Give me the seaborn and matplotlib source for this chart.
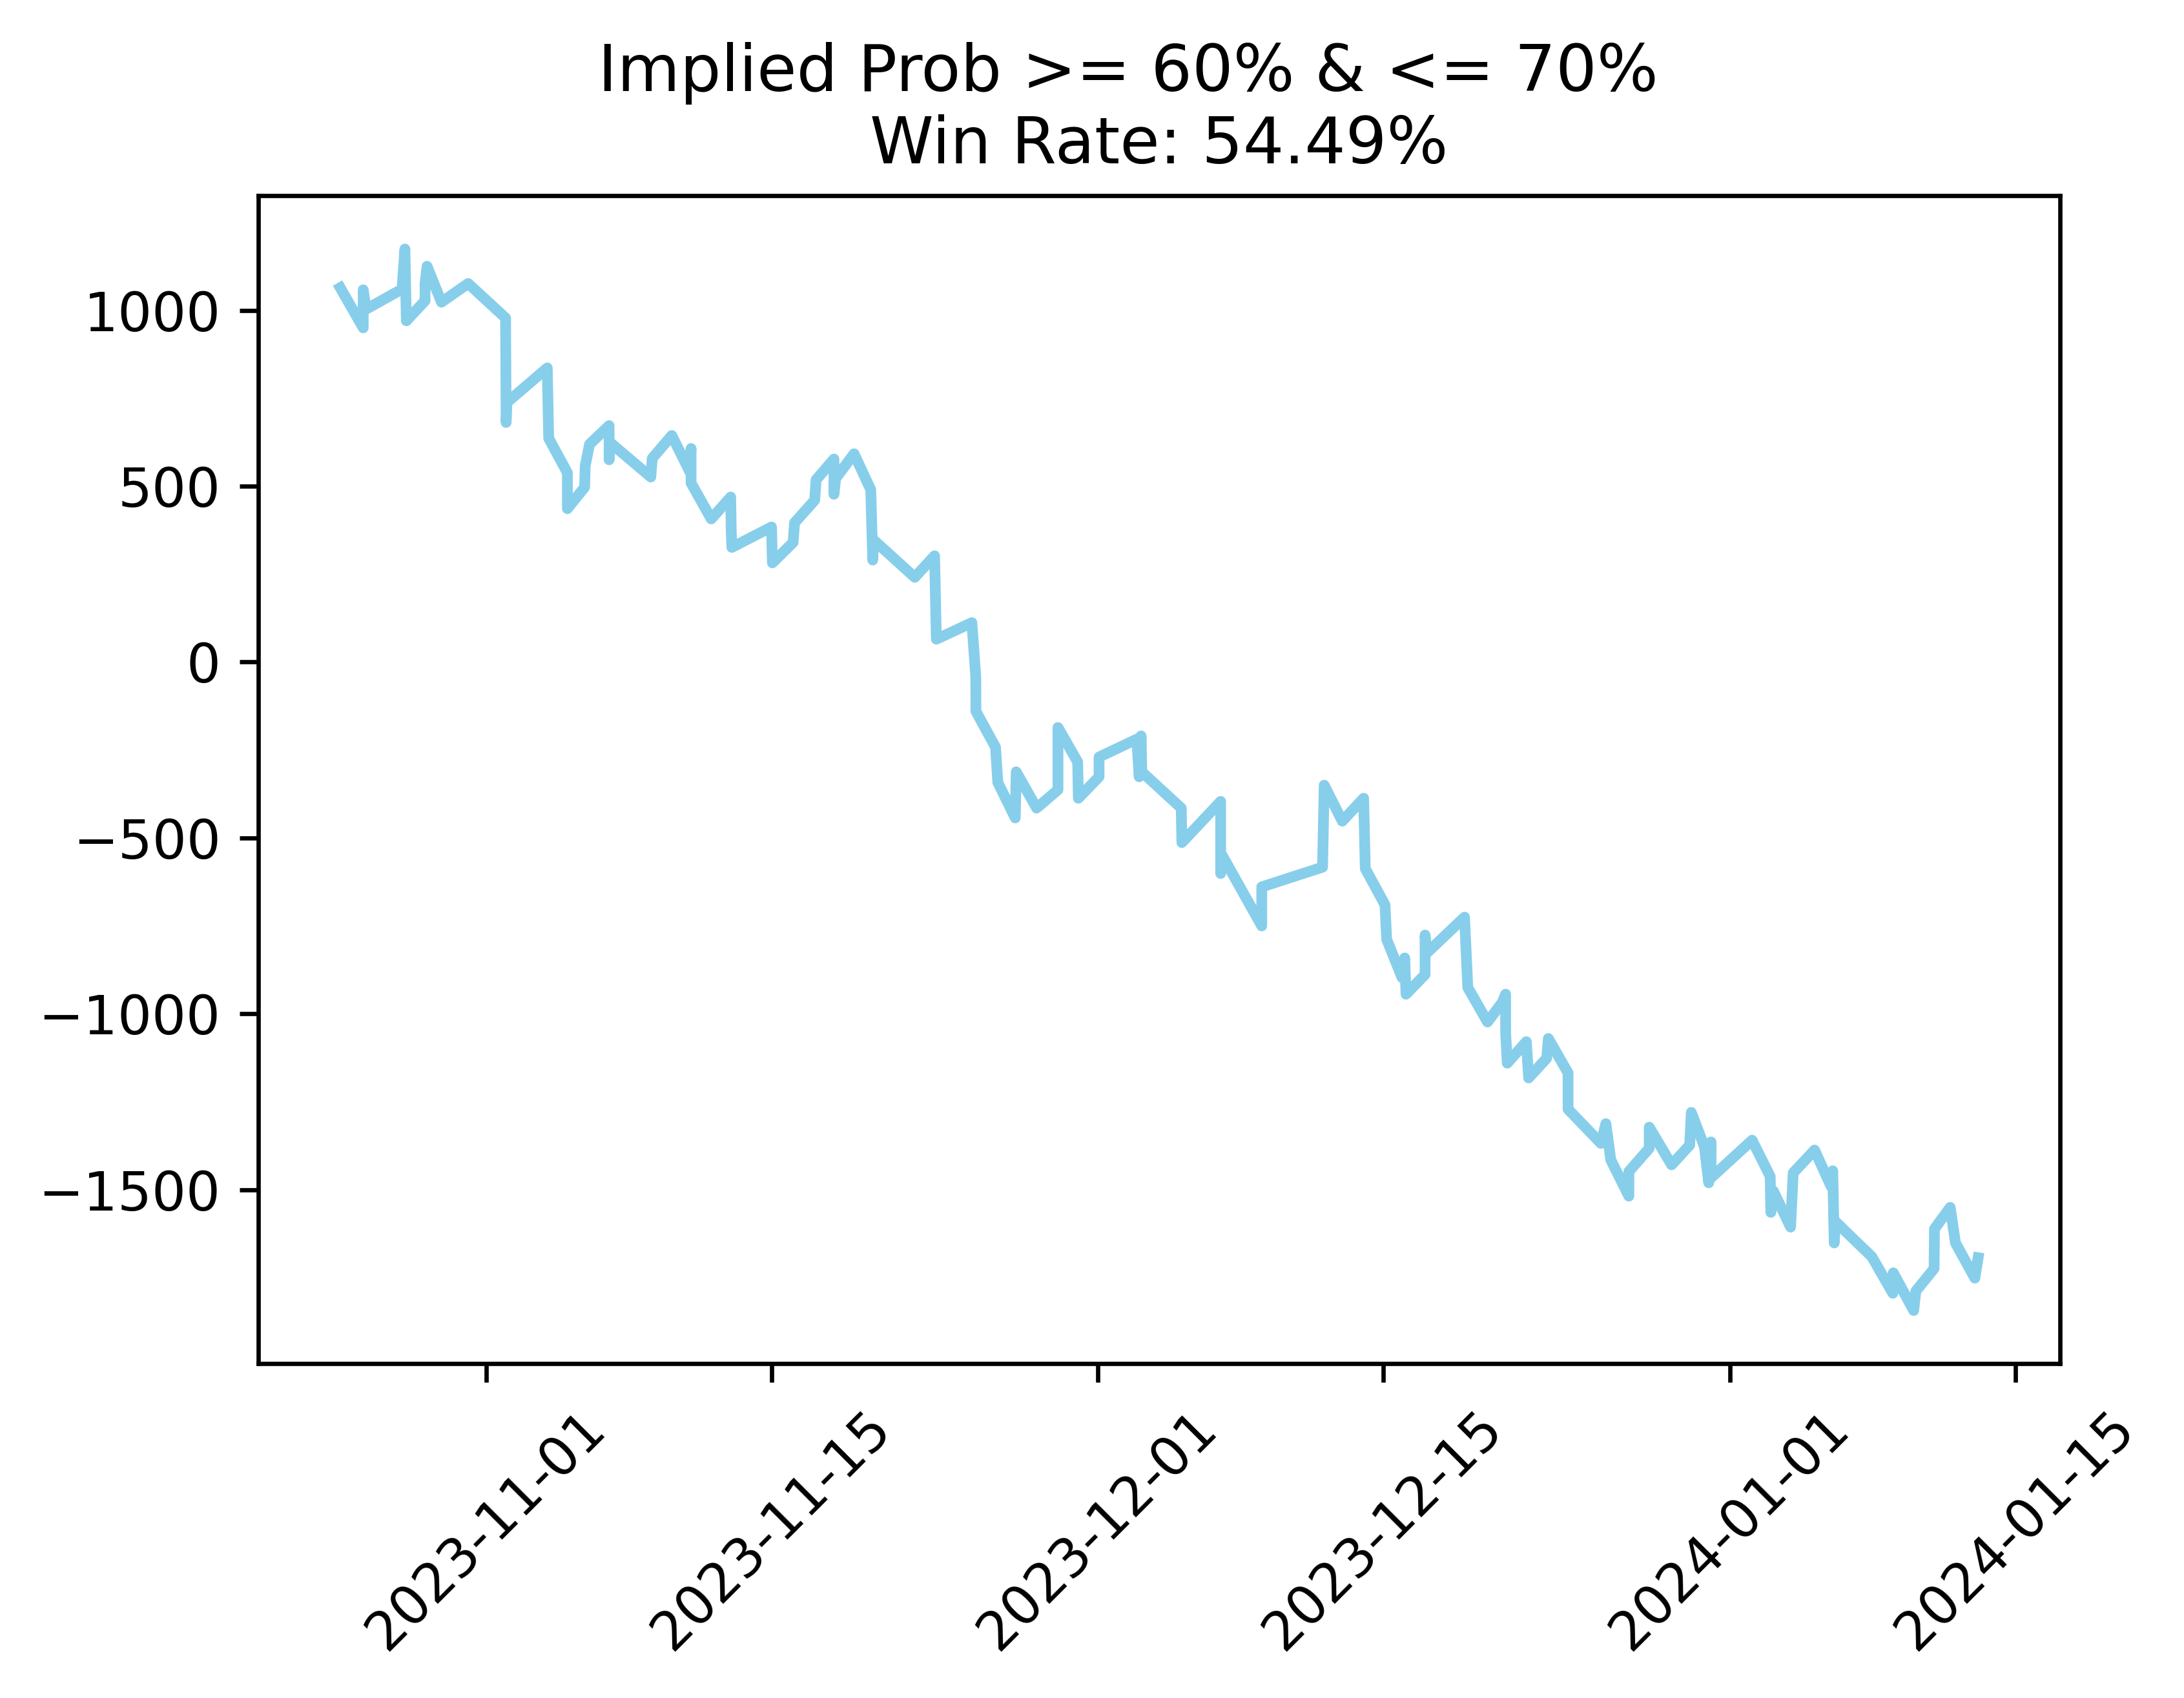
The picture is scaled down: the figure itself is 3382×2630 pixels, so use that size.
import matplotlib
matplotlib.use("Agg")
import matplotlib.pyplot as plt
import seaborn as sns
import pandas as pd
import numpy as np

# ---- data (day offsets from 2023-11-01, cumulative profit) ----
base_date = "2023-11-01"
day_offsets = [
    -7.168, -6.040, -6.040, -5.900, -4.136, -3.995, -3.924, -3.007, -3.007, -2.909,
    -2.203, -0.892, 0.942, 0.970, 1.012, 2.987, 3.057, 3.974, 3.974, 4.820,
    4.848, 5.060, 6.019, 6.019, 6.090, 8.064, 8.135, 9.094, 9.969, 10.039,
    10.039, 11.027, 11.982, 12.010, 12.040, 13.985, 14.028, 15.043, 15.114, 16.101,
    16.171, 17.046, 17.046, 17.130, 18.033, 18.851, 18.950, 18.992, 21.009, 21.982,
    22.069, 23.810, 24.003, 24.010, 24.971, 25.083, 25.938, 25.986, 26.986, 28.033,
    28.033, 29.000, 29.033, 30.048, 30.048, 31.902, 32.014, 32.111, 32.144, 34.078,
    34.110, 36.012, 36.012, 36.093, 38.027, 38.027, 41.009, 41.090, 41.976, 43.024,
    43.105, 44.072, 44.153, 44.910, 45.039, 45.103, 46.038, 46.038, 46.119, 47.972,
    48.133, 49.100, 49.826, 49.987, 49.990, 50.068, 51.003, 51.116, 52.002, 52.083,
    53.050, 53.050, 54.662, 54.904, 55.145, 56.032, 56.032, 57.031, 57.031, 58.127,
    59.014, 59.094, 59.739, 59.948, 60.061, 60.061, 62.076, 62.963, 62.995, 63.124,
    63.962, 64.091, 65.139, 65.945, 66.030, 66.103, 66.156, 67.946, 68.979, 69.000,
    70.000, 70.105, 71.000, 71.020, 71.790, 72.050, 73.000, 73.160,
]
profit = [
    1064, 950, 1058, 1003, 1060, 1174, 970, 1027, 1076, 1125,
    1023, 1076, 978, 681, 738, 836, 636, 538, 436, 497,
    558, 619, 672, 575, 623, 526, 579, 644, 542, 607,
    509, 407, 469, 371, 326, 384, 282, 340, 396, 460,
    518, 577, 477, 522, 592, 490, 290, 347, 241, 302,
    65, 112, -42, -140, -242, -342, -443, -312, -415, -363,
    -186, -284, -387, -326, -270, -219, -326, -210, -312, -415,
    -513, -396, -601, -550, -750, -639, -583, -350, -452, -387,
    -587, -690, -788, -897, -841, -944, -888, -776, -827, -725,
    -925, -1023, -967, -944, -1056, -1140, -1079, -1182, -1126, -1070,
    -1168, -1271, -1368, -1312, -1415, -1518, -1448, -1382, -1322, -1429,
    -1373, -1280, -1378, -1480, -1364, -1466, -1359, -1462, -1564, -1504,
    -1606, -1452, -1387, -1490, -1446, -1651, -1590, -1690, -1794, -1736,
    -1843, -1788, -1724, -1611, -1550, -1651, -1751, -1693,
]
title_line1 = "Implied Prob >= 60% & <= 70%   "
title_line2 = "Win Rate: 54.49%"

dates = pd.Timestamp(base_date) + pd.to_timedelta(day_offsets, unit="D")
df = pd.DataFrame({"date": dates, "profit": profit})

DPI = 600
fig = plt.figure(figsize=(3382 / DPI, 2630 / DPI), dpi=DPI)
ax = fig.add_subplot(111)
fig.subplots_adjust(left=400 / 3382, right=3190 / 3382,
                    bottom=1 - 2112 / 2630, top=1 - 303.5 / 2630)

sns.lineplot(data=df, x="date", y="profit", ax=ax, color="skyblue",
             linewidth=2, sort=False, estimator=None)
ax.set_xlabel("")
ax.set_ylabel("")
ax.set_title(title_line1 + "\n" + title_line2, fontsize=12)
plt.setp(ax.get_xticklabels(), rotation=45)

fig.savefig("out.png", dpi=DPI)
